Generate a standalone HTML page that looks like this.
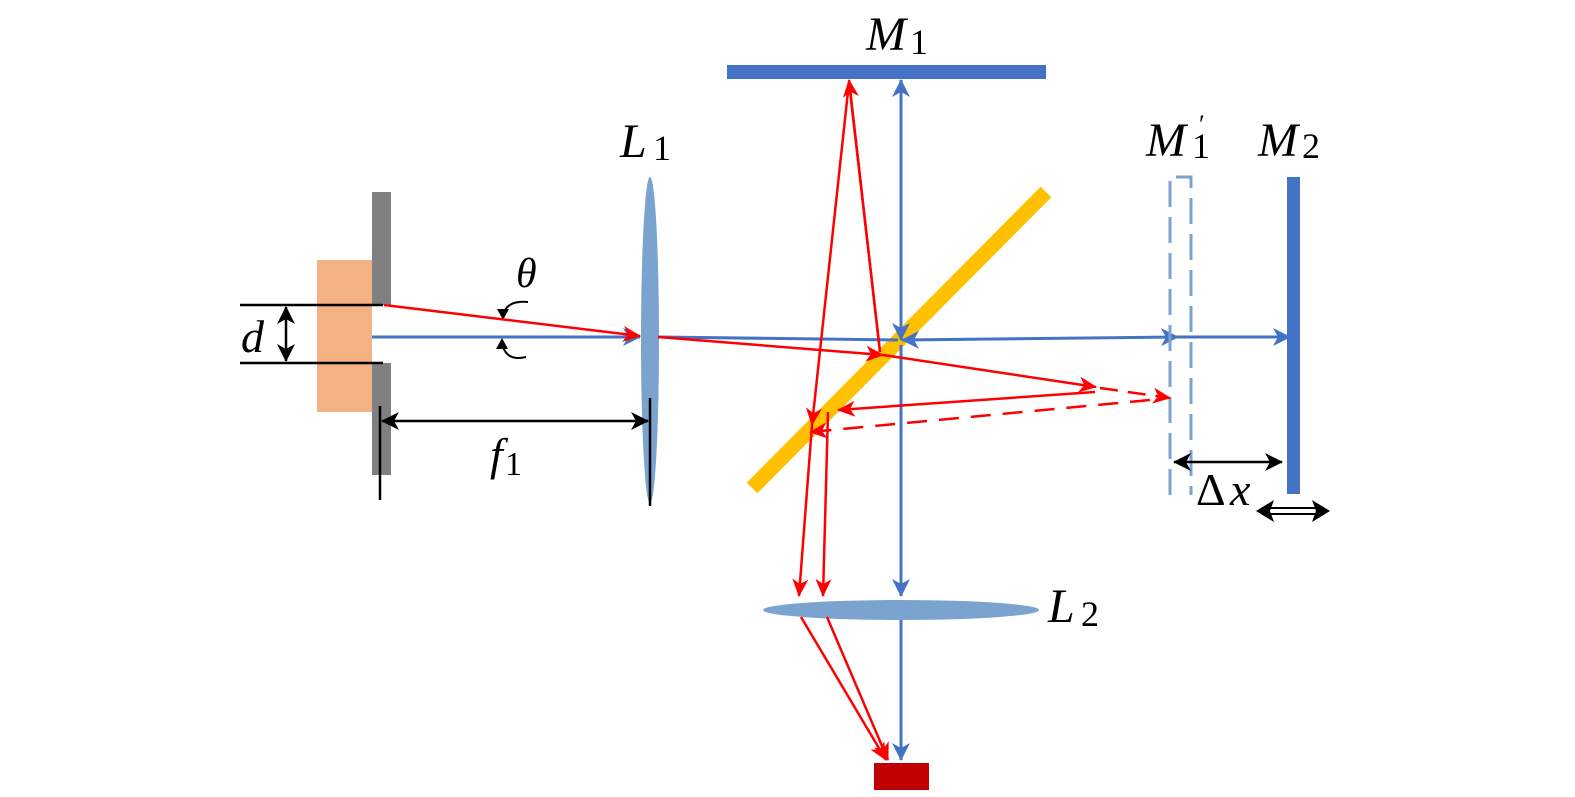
<!DOCTYPE html>
<html><head><meta charset="utf-8"><style>
html,body{margin:0;padding:0;background:#fff;}
svg{display:block;}
text{font-family:"Liberation Serif",serif;font-style:italic;fill:#000;}
.s{font-style:normal;}
</style></head><body>
<svg width="1575" height="797" viewBox="0 0 1575 797" xmlns="http://www.w3.org/2000/svg">
<defs>
<marker id="r" markerWidth="40" markerHeight="40" refX="0" refY="0" orient="auto-start-reverse" markerUnits="userSpaceOnUse" style="overflow:visible"><path d="M-17,-8 L1,0 L-17,8 L-12,0 Z" fill="#F00"/></marker>
<marker id="b" markerWidth="40" markerHeight="40" refX="0" refY="0" orient="auto-start-reverse" markerUnits="userSpaceOnUse" style="overflow:visible"><path d="M-17,-9 L1,0 L-17,9 L-12,0 Z" fill="#4472C4"/></marker>
<marker id="k" markerWidth="40" markerHeight="40" refX="0" refY="0" orient="auto-start-reverse" markerUnits="userSpaceOnUse" style="overflow:visible"><path d="M-17,-9 L1,0 L-17,9 L-12,0 Z" fill="#000"/></marker>
</defs>
<!-- source -->
<rect x="317" y="260" width="55" height="152" fill="#F4B183"/>
<rect x="372" y="192" width="19" height="113" fill="#808080"/>
<rect x="372" y="363" width="19" height="112" fill="#808080"/>
<line x1="240" y1="305" x2="383" y2="305" stroke="#000" stroke-width="2.5"/>
<line x1="240" y1="363" x2="383" y2="363" stroke="#000" stroke-width="2.5"/>
<line x1="286" y1="307" x2="286" y2="361" stroke="#000" stroke-width="2.5" marker-start="url(#k)" marker-end="url(#k)"/>
<text x="241" y="352" font-size="46">d</text>
<!-- L1 -->
<ellipse cx="650" cy="340" rx="9" ry="163" fill="#7BA3CF"/>
<line x1="380" y1="406" x2="380" y2="500" stroke="#000" stroke-width="2.5"/>
<line x1="650" y1="398" x2="650" y2="506" stroke="#000" stroke-width="2.5"/>
<line x1="382" y1="421" x2="648" y2="421" stroke="#000" stroke-width="2.5" marker-start="url(#k)" marker-end="url(#k)"/>
<text x="490" y="470" font-size="46">f</text><text x="505" y="475" font-size="34" class="s">1</text>
<text x="516" y="287" font-size="42">θ</text>
<path d="M528,302 Q505,300 503,317" fill="none" stroke="#000" stroke-width="2"/>
<path d="M497,309 L503,320 L509,309 Z" fill="#000"/>
<path d="M526,357 Q505,362 502,342" fill="none" stroke="#000" stroke-width="2"/>
<path d="M496,349 L502,338 L508,349 Z" fill="#000"/>
<text x="620" y="157" font-size="48">L</text><text x="653" y="160" font-size="36" class="s">1</text>
<!-- beams left -->
<line x1="372" y1="337" x2="640" y2="337" stroke="#4472C4" stroke-width="3" marker-end="url(#b)"/>
<line x1="384" y1="305" x2="640" y2="336" stroke="#F00" stroke-width="2.5" marker-end="url(#r)"/>
<!-- M1 -->
<rect x="727" y="65" width="319" height="14" fill="#4472C4"/>
<text x="866" y="50" font-size="48">M</text><text x="910" y="54" font-size="36" class="s">1</text>
<!-- beam splitter -->
<line x1="752" y1="488" x2="1046" y2="192" stroke="#FFC000" stroke-width="15"/>
<!-- blue beams -->
<line x1="658" y1="337" x2="898" y2="340" stroke="#4472C4" stroke-width="3"/>
<line x1="902" y1="340" x2="1178" y2="337" stroke="#4472C4" stroke-width="3" marker-start="url(#b)" marker-end="url(#b)"/>
<line x1="1178" y1="337" x2="1290" y2="337" stroke="#4472C4" stroke-width="3" marker-end="url(#b)"/>
<line x1="901" y1="340" x2="901" y2="80" stroke="#4472C4" stroke-width="3" marker-end="url(#b)"/>
<line x1="901" y1="90" x2="901" y2="340" stroke="#4472C4" stroke-width="3" marker-end="url(#b)"/>
<line x1="901" y1="345" x2="901" y2="596" stroke="#4472C4" stroke-width="3" marker-end="url(#b)"/>
<line x1="901" y1="615" x2="901" y2="760" stroke="#4472C4" stroke-width="3" marker-end="url(#b)"/>
<!-- M1' and M2 -->
<path d="M1170,495 V177 H1191 V495" fill="none" stroke="#7BA3CF" stroke-width="3" stroke-dasharray="26,10"/>
<rect x="1287" y="177" width="13" height="317" fill="#4472C4"/>
<text x="1146" y="156" font-size="48">M</text><text x="1192" y="158" font-size="36" class="s">1</text><text x="1199" y="133" font-size="26" class="s">′</text>
<text x="1258" y="156" font-size="48">M</text><text x="1302" y="158" font-size="36" class="s">2</text>
<line x1="1174" y1="462" x2="1282" y2="462" stroke="#000" stroke-width="2.5" marker-start="url(#k)" marker-end="url(#k)"/>
<text x="1196" y="505" font-size="46" class="s">Δ</text><text x="1230" y="505" font-size="46">x</text>
<line x1="1262" y1="508" x2="1324" y2="508" stroke="#000" stroke-width="2"/>
<line x1="1262" y1="514" x2="1324" y2="514" stroke="#000" stroke-width="2"/>
<path d="M1256,511 L1274,500 L1270,511 L1274,522 Z" fill="#000"/>
<path d="M1330,511 L1312,500 L1316,511 L1312,522 Z" fill="#000"/>
<!-- red beams -->
<line x1="658" y1="337" x2="883" y2="355" stroke="#F00" stroke-width="2.5" marker-end="url(#r)"/>
<line x1="883" y1="355" x2="1096" y2="387" stroke="#F00" stroke-width="2.5" marker-end="url(#r)"/>
<line x1="1100" y1="388" x2="1170" y2="398" stroke="#F00" stroke-width="2.5" stroke-dasharray="18,10" marker-end="url(#r)"/>
<line x1="1095" y1="392" x2="838" y2="410" stroke="#F00" stroke-width="2.5" marker-end="url(#r)"/>
<line x1="1150" y1="400" x2="810" y2="432" stroke="#F00" stroke-width="2.5" stroke-dasharray="20,12" marker-end="url(#r)"/>
<line x1="880" y1="352" x2="849" y2="80" stroke="#F00" stroke-width="2.5" marker-end="url(#r)"/>
<line x1="849" y1="82" x2="880" y2="352" stroke="#F00" stroke-width="2.5"/>
<line x1="849" y1="82" x2="812" y2="425" stroke="#F00" stroke-width="2.5" marker-end="url(#r)"/>
<line x1="812" y1="425" x2="799" y2="596" stroke="#F00" stroke-width="2.5" marker-end="url(#r)"/>
<line x1="828" y1="412" x2="823" y2="596" stroke="#F00" stroke-width="2.5" marker-end="url(#r)"/>
<!-- L2 -->
<ellipse cx="901" cy="610" rx="138" ry="10" fill="#7BA3CF"/>
<text x="1048" y="622" font-size="48">L</text><text x="1081" y="626" font-size="36" class="s">2</text>
<line x1="801" y1="617" x2="886" y2="760" stroke="#F00" stroke-width="2.5" marker-end="url(#r)"/>
<line x1="827" y1="617" x2="888" y2="760" stroke="#F00" stroke-width="2.5" marker-end="url(#r)"/>
<!-- detector -->
<rect x="874" y="763" width="55" height="27" fill="#C00000"/>
</svg>
</body></html>
